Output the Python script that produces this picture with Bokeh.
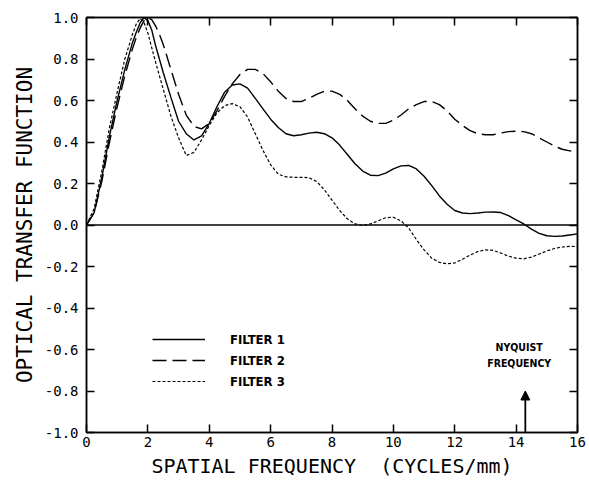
from bokeh.plotting import figure
from bokeh.models import (Range1d, LinearAxis, Span, Legend, LegendItem, Label,
                          Arrow, NormalHead, FixedTicker, CustomJSTickFormatter,
                          NumeralTickFormatter)
from bokeh.embed import file_html
from bokeh.resources import INLINE

# ---------------- data ----------------
freq = [0.0, 0.25, 0.5, 0.75, 1.0, 1.25, 1.5, 1.625, 1.75, 1.875, 2.0, 2.125,
        2.25, 2.375, 2.5, 2.75,
        3.0, 3.25, 3.5, 3.75, 4.0, 4.25, 4.5, 4.75, 5.0, 5.25, 5.5, 5.75,
        6.0, 6.25, 6.5, 6.75, 7.0, 7.25, 7.5, 7.75, 8.0, 8.25, 8.5, 8.75,
        9.0, 9.25, 9.5, 9.75, 10.0, 10.25, 10.5, 10.75, 11.0, 11.25, 11.5, 11.75,
        12.0, 12.25, 12.5, 12.75, 13.0, 13.25, 13.5, 13.75, 14.0, 14.25, 14.5, 14.75,
        15.0, 15.25, 15.5, 15.75, 16.0]

filter1 = [0.0, 0.06, 0.23, 0.43, 0.60, 0.75, 0.88, 0.93, 0.975, 1.0, 0.985, 0.94,
           0.865, 0.80, 0.735, 0.615,
           0.50, 0.44, 0.41, 0.43, 0.49, 0.57, 0.64, 0.675, 0.68, 0.66, 0.61, 0.56,
           0.51, 0.47, 0.44, 0.43, 0.435, 0.443, 0.447, 0.44, 0.42, 0.385, 0.34, 0.295,
           0.26, 0.24, 0.238, 0.25, 0.27, 0.285, 0.287, 0.27, 0.235, 0.19, 0.14, 0.10,
           0.07, 0.058, 0.055, 0.058, 0.062, 0.063, 0.06, 0.045, 0.025, 0.005, -0.02, -0.04,
           -0.052, -0.055, -0.053, -0.048, -0.043]

filter2 = [0.0, 0.06, 0.21, 0.40, 0.57, 0.72, 0.85, 0.905, 0.95, 0.985, 1.0, 0.99,
           0.96, 0.92, 0.87, 0.75,
           0.63, 0.53, 0.475, 0.463, 0.49, 0.55, 0.62, 0.68, 0.725, 0.75, 0.75, 0.73,
           0.69, 0.645, 0.61, 0.595, 0.595, 0.61, 0.63, 0.645, 0.645, 0.63, 0.60, 0.56,
           0.525, 0.50, 0.49, 0.49, 0.505, 0.53, 0.56, 0.58, 0.595, 0.595, 0.58, 0.55,
           0.51, 0.48, 0.455, 0.44, 0.435, 0.435, 0.443, 0.45, 0.452, 0.45, 0.44, 0.42,
           0.40, 0.38, 0.365, 0.357, 0.355]

filter3 = [0.0, 0.08, 0.26, 0.47, 0.64, 0.80, 0.92, 0.97, 0.995, 0.975, 0.925, 0.855,
           0.785, 0.72, 0.655, 0.525,
           0.42, 0.335, 0.35, 0.41, 0.48, 0.54, 0.575, 0.585, 0.57, 0.52, 0.44, 0.36,
           0.29, 0.245, 0.232, 0.23, 0.23, 0.228, 0.21, 0.17, 0.12, 0.07, 0.03, 0.005,
           -0.002, 0.005, 0.02, 0.035, 0.037, 0.02, -0.015, -0.07, -0.12, -0.16, -0.18, -0.187,
           -0.183, -0.165, -0.145, -0.128, -0.12, -0.122, -0.135, -0.15, -0.16, -0.163, -0.155, -0.14,
           -0.125, -0.113, -0.106, -0.103, -0.104]

series_labels = ["FILTER 1", "FILTER 2", "FILTER 3"]
x_ticks = [0, 2, 4, 6, 8, 10, 12, 14, 16]
y_ticks = [-1.0, -0.8, -0.6, -0.4, -0.2, 0.0, 0.2, 0.4, 0.6, 0.8, 1.0]
nyquist = 14.3
nyquist_arrow_top = -0.80
nyquist_text = ["NYQUIST", "FREQUENCY"]

# ---------------- figure ----------------
TICK_FONT = "DejaVu Sans Mono"
p = figure(width=589, height=481, x_range=Range1d(0, 16), y_range=Range1d(-1, 1),
           output_backend="svg", toolbar_location=None,
           min_border_left=86, min_border_right=12, min_border_top=17, min_border_bottom=49,
           x_axis_label="SPATIAL FREQUENCY\u00a0\u00a0(CYCLES/mm)",
           y_axis_label="OPTICAL TRANSFER FUNCTION")
p.grid.visible = False
p.outline_line_color = "black"
p.outline_line_width = 1.5
p.background_fill_color = "white"
p.border_fill_color = "white"

for ax in (p.xaxis[0], p.yaxis[0]):
    ax.major_tick_in = 8
    ax.major_tick_out = 0
    ax.minor_tick_line_color = None
    ax.axis_line_width = 1.5
    ax.major_tick_line_width = 1.5
    ax.major_label_text_font = TICK_FONT
    ax.major_label_text_font_size = "14px"
    ax.major_label_text_color = "black"
    ax.axis_label_text_font = TICK_FONT
    ax.axis_label_text_font_style = "normal"
    ax.axis_label_text_color = "black"

p.xaxis[0].ticker = FixedTicker(ticks=x_ticks)
p.yaxis[0].ticker = FixedTicker(ticks=y_ticks)
p.yaxis[0].formatter = NumeralTickFormatter(format="0.0")
p.xaxis[0].major_label_standoff = 4
p.yaxis[0].major_label_standoff = 8
p.xaxis[0].axis_label_text_font_size = "20px"
p.yaxis[0].axis_label_text_font_size = "21px"
p.xaxis[0].axis_label_standoff = 4
p.yaxis[0].axis_label_standoff = 5

blank = CustomJSTickFormatter(code="return ''")
top = LinearAxis(ticker=FixedTicker(ticks=x_ticks), formatter=blank,
                 major_tick_in=8, major_tick_out=0, minor_tick_line_color=None,
                 axis_line_width=1.5, major_tick_line_width=1.5, major_label_standoff=0)
right = LinearAxis(ticker=FixedTicker(ticks=y_ticks), formatter=blank,
                   major_tick_in=8, major_tick_out=0, minor_tick_line_color=None,
                   axis_line_width=1.5, major_tick_line_width=1.5, major_label_standoff=0)
p.add_layout(top, "above")
p.add_layout(right, "right")

p.add_layout(Span(location=0, dimension="width", line_color="black", line_width=1.3))

r1 = p.line(freq, filter1, line_color="black", line_width=1.4)
r2 = p.line(freq, filter2, line_color="black", line_width=1.4, line_dash="14 6")
r3 = p.line(freq, filter3, line_color="black", line_width=1.2, line_dash="3 2")

LEG_FONT = "DejaVu Sans Condensed, DejaVu Sans"
legend = Legend(items=[LegendItem(label=series_labels[0], renderers=[r1]),
                       LegendItem(label=series_labels[1], renderers=[r2]),
                       LegendItem(label=series_labels[2], renderers=[r3])],
                location=(66, 41), border_line_alpha=0, background_fill_alpha=0,
                padding=0, margin=0, glyph_width=53, glyph_height=20,
                label_height=20, label_standoff=25, spacing=1,
                label_text_font=LEG_FONT, label_text_font_style="bold",
                label_text_font_size="13px", label_text_color="black")
p.add_layout(legend)

p.add_layout(Arrow(end=NormalHead(size=9, fill_color="black", line_color="black"),
                   x_start=nyquist, y_start=-1.0, x_end=nyquist, y_end=nyquist_arrow_top,
                   line_width=1.8, line_color="black"))
p.add_layout(Label(x=nyquist - 0.2, y=-0.589, text=nyquist_text[0], text_align="center",
                   text_baseline="middle", text_font=LEG_FONT, text_font_style="bold",
                   text_font_size="10.5px", text_color="black"))
p.add_layout(Label(x=nyquist - 0.2, y=-0.666, text=nyquist_text[1], text_align="center",
                   text_baseline="middle", text_font=LEG_FONT, text_font_style="bold",
                   text_font_size="10.5px", text_color="black"))

open("out.html", "w").write(file_html(p, INLINE))
